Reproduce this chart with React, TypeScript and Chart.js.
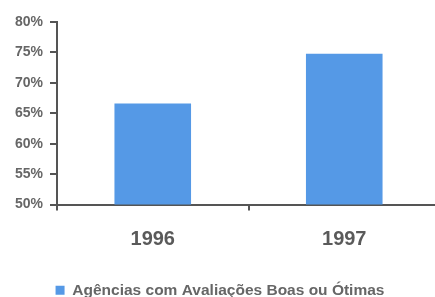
import React, { useEffect, useRef } from "react";
import { Chart, registerables } from "chart.js";

Chart.register(...registerables);

const categories: string[] = ["1996", "1997"];
const seriesName = "Agências com Avaliações Boas ou Ótimas";
const values: number[] = [66.6, 74.8];
const yMin = 50;
const yMax = 80;
const yStep = 5;

export default function App() {
  const ref = useRef<HTMLCanvasElement>(null);
  useEffect(() => {
    if (!ref.current) return;
    const chart = new Chart(ref.current, {
      type: "bar",
      data: {
        labels: categories,
        datasets: [
          {
            label: seriesName,
            data: values,
            backgroundColor: "#5599e6",
            borderWidth: 0,
            barPercentage: 0.4,
            categoryPercentage: 1,
          },
        ],
      },
      options: {
        responsive: false,
        animation: false,
        layout: { padding: { top: 22, right: 0, left: 0, bottom: 0 } },
        plugins: {
          legend: {
            position: "bottom",
            labels: {
              boxWidth: 9,
              boxHeight: 9,
              padding: 14,
              color: "#666",
              font: { family: "Liberation Sans, Arial", size: 15.5, weight: "bold" },
            },
          },
          tooltip: { enabled: false },
        },
        scales: {
          x: {
            grid: {
              offset: true,
              drawOnChartArea: false,
              drawTicks: true,
              tickLength: 6,
              color: "#555",
              lineWidth: 2,
            },
            border: { color: "#555", width: 2 },
            ticks: {
              color: "#5a5a5a",
              padding: 17,
              font: { family: "Liberation Sans, Arial", size: 20, weight: "bold" },
            },
          },
          y: {
            min: yMin,
            max: yMax,
            afterFit: (scale: any) => {
              scale.width = 57;
            },
            grid: {
              drawOnChartArea: false,
              drawTicks: true,
              tickLength: 7,
              color: "#555",
              lineWidth: 2,
            },
            border: { color: "#555", width: 2 },
            ticks: {
              stepSize: yStep,
              color: "#666",
              padding: 7,
              font: { family: "Liberation Sans, Arial", size: 14, weight: "bold" },
              callback: (v: any) => v + "%",
            },
          },
        },
      },
    });
    return () => chart.destroy();
  }, []);
  return (
    <div style={{ position: "fixed", left: 0, top: 0, width: 435, height: 297, overflow: "hidden", background: "#fff" }}>
      <canvas ref={ref} width={440} height={308} />
    </div>
  );
}
